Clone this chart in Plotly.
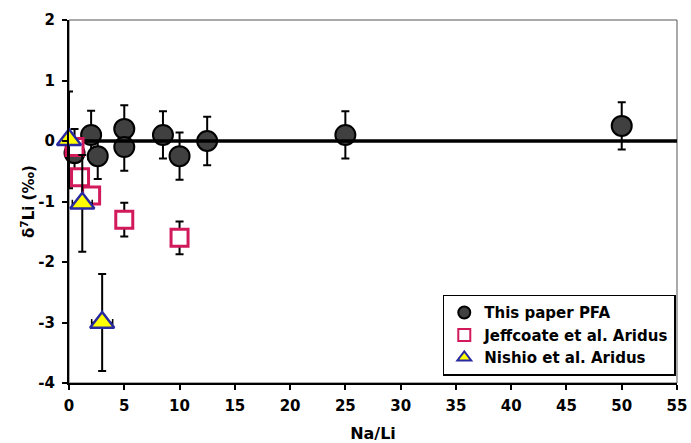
import plotly.graph_objects as go

# This paper PFA
pfa_x = [0.5, 2, 2.6, 5, 5, 8.5, 10, 12.5, 25, 50]
pfa_y = [-0.2, 0.1, -0.25, 0.2, -0.1, 0.1, -0.25, 0.0, 0.1, 0.25]
pfa_err = [0.4, 0.4, 0.38, 0.39, 0.39, 0.39, 0.39, 0.4, 0.39, 0.39]

# Jeffcoate et al. Aridus
jeff_x = [0.5, 1, 2, 5, 10]
jeff_y = [-0.1, -0.6, -0.9, -1.3, -1.6]
jeff_err = [0.12, 0.12, 0.12, 0.28, 0.27]

# Nishio et al. Aridus
nishio_x = [0, 1.2, 3]
nishio_y = [0.02, -1.03, -3.0]
nishio_yerr = [0.8, 0.8, 0.8]
nishio_xerr = [0, 0.9, 0.95]

# reference line at zero
base_x = [0, 55]
base_y = [0, 0]

x_ticks = [0, 5, 10, 15, 20, 25, 30, 35, 40, 45, 50, 55]
y_ticks = [-4, -3, -2, -1, 0, 1, 2]

FONT = "DejaVu Sans, Liberation Sans, Arial, sans-serif"

fig = go.Figure()

fig.add_trace(go.Scatter(
    x=pfa_x, y=pfa_y, mode="markers", name="<b>This paper PFA</b>", cliponaxis=False,
    marker=dict(symbol="circle", size=20, color="#404040",
                line=dict(color="black", width=2)),
    error_y=dict(type="data", array=pfa_err, color="black", thickness=2, width=4),
))

fig.add_trace(go.Scatter(
    x=base_x, y=base_y, mode="lines", showlegend=False, hoverinfo="skip",
    line=dict(color="black", width=3.5),
))

fig.add_trace(go.Scatter(
    x=jeff_x, y=jeff_y, mode="markers", name="<b>Jeffcoate et al. Aridus</b>", cliponaxis=False,
    marker=dict(symbol="square", size=17, color="white",
                line=dict(color="#D2195A", width=3)),
    error_y=dict(type="data", array=jeff_err, color="black", thickness=2, width=4),
))

fig.add_trace(go.Scatter(
    x=nishio_x, y=nishio_y, mode="markers", name="<b>Nishio et al. Aridus</b>", cliponaxis=False,
    marker=dict(symbol="triangle-up", size=21, color="#FFFF00",
                line=dict(color="#2A2AA0", width=2.5)),
    error_y=dict(type="data", array=nishio_yerr, color="black", thickness=2, width=4),
    error_x=dict(type="data", array=nishio_xerr, color="black", thickness=1.5, width=3.5),
))

fig.add_shape(type="rect", xref="paper", yref="paper", x0=0, x1=1, y0=0, y1=1,
              line=dict(color="#555555", width=1), layer="below")

fig.update_layout(
    width=691, height=443,
    margin=dict(l=69, r=14, t=20, b=60),
    paper_bgcolor="white", plot_bgcolor="white",
    font=dict(family=FONT, size=15, color="black"),
    showlegend=True,
    legend=dict(x=0.998, xanchor="right", y=0.02, yanchor="bottom",
                bgcolor="white", bordercolor="black", borderwidth=1.5,
                font=dict(family=FONT, size=15, color="black"),
                itemsizing="constant", itemwidth=30, tracegroupgap=0),
    xaxis=dict(range=[0, 55], tickvals=x_ticks, ticktext=["<b>%d</b>" % v for v in x_ticks],
               automargin=False,
               showgrid=False, zeroline=False, showline=True, linecolor="black",
               linewidth=2, ticks="outside", ticklen=5, tickwidth=1.5, tickcolor="black",
               ticklabelstandoff=3,
               tickfont=dict(family=FONT, size=15, color="black"),
               title=dict(text="<b>Na/Li</b>", standoff=16,
                          font=dict(family=FONT, size=16, color="black"))),
    yaxis=dict(range=[-4, 2], tickvals=y_ticks, ticktext=["<b>%d</b>" % v for v in y_ticks],
               automargin=False,
               showgrid=False, zeroline=False, showline=True, linecolor="black",
               linewidth=2, ticks="outside", ticklen=5, tickwidth=1.5, tickcolor="black",
               ticklabelstandoff=4,
               tickfont=dict(family=FONT, size=15, color="black"),
               title=dict(text="<b>δ<sup>7</sup>Li (‰)</b>", standoff=0,
                          font=dict(family=FONT, size=15, color="black"))),
)

fig.write_html("out.html", config={"displayModeBar": False},
               post_script="document.body.style.margin='0';document.body.style.padding='0';")
